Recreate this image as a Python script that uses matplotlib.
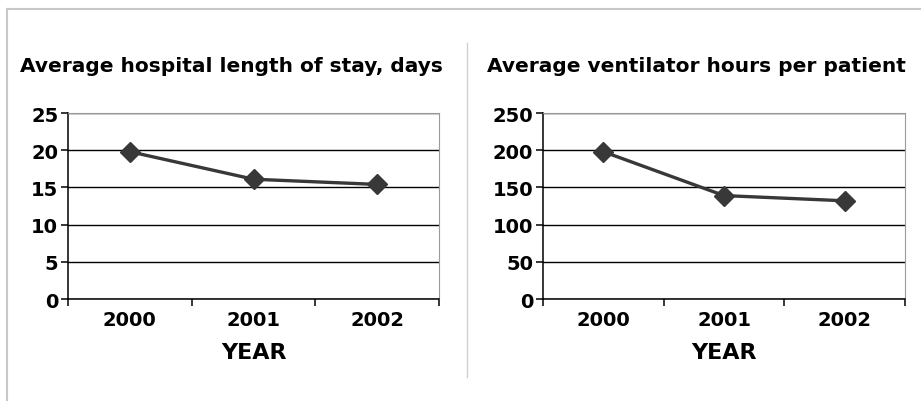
import matplotlib.pyplot as plt
from matplotlib.lines import Line2D

years = ["2000", "2001", "2002"]
stay_days = [19.8, 16.1, 15.4]
vent_hours = [198, 139, 132]

W, H = 921, 402
plt.rcParams['font.family'] = ['DejaVu Sans']
plt.rcParams['font.weight'] = 'bold'

fig = plt.figure(figsize=(W / 100, H / 100), dpi=100)
fig.patch.set_facecolor("white")


def px_axes(x0, y0, x1, y1):
    return fig.add_axes([x0 / W, 1 - y1 / H, (x1 - x0) / W, (y1 - y0) / H])


def draw_panel(ax, values, ymax, step, title, title_x):
    xs = range(len(values))
    ax.plot(xs, values, color="#383838", lw=2.4, marker="D", ms=10,
            mfc="#383838", mec="#383838", zorder=3, clip_on=False)
    ax.set_xlim(-0.5, len(values) - 0.5)
    ax.set_ylim(0, ymax)
    ax.set_yticks(range(0, ymax + 1, step))
    ax.yaxis.grid(True, color="black", lw=1.0)
    ax.set_axisbelow(True)
    ax.set_xticks(list(xs))
    ax.set_xticklabels(years, fontsize=14, fontweight="bold")
    ax.set_xticks([i - 0.5 for i in range(len(values) + 1)], minor=True)
    ax.tick_params(axis="x", which="major", length=0, pad=8)
    ax.tick_params(axis="x", which="minor", length=5, width=1.1, color="black")
    ax.tick_params(axis="y", length=5, width=1.1, pad=2, labelsize=14)
    for lab in ax.get_yticklabels():
        lab.set_fontweight("bold")
    ax.spines["left"].set_color("black")
    ax.spines["bottom"].set_color("black")
    ax.spines["left"].set_linewidth(1.1)
    ax.spines["bottom"].set_linewidth(1.1)
    ax.spines["top"].set_color("#9a9a9a")
    ax.spines["right"].set_color("#9a9a9a")
    ax.set_xlabel("YEAR", fontsize=16, fontweight="bold", labelpad=9)
    fig.text(title_x / W, 1 - 66 / H, title, ha="center", va="center",
             fontsize=14.5, fontweight="bold")


ax1 = px_axes(68, 114, 439, 300)
draw_panel(ax1, stay_days, 25, 5, "Average hospital length of stay, days", 231)

ax2 = px_axes(543, 114, 905, 300)
draw_panel(ax2, vent_hours, 250, 50, "Average ventilator hours per patient", 696)

# outer frame and divider
fig.add_artist(Line2D([7 / W, 1], [1 - 10 / H, 1 - 10 / H], color="#c8c8c8", lw=1.5))
fig.add_artist(Line2D([7 / W, 7 / W], [0, 1 - 10 / H], color="#c8c8c8", lw=1.5))
fig.add_artist(Line2D([467 / W, 467 / W], [1 - 44 / H, 1 - 378 / H], color="#d0d0d0", lw=1))

fig.savefig("out.png", dpi=100)
